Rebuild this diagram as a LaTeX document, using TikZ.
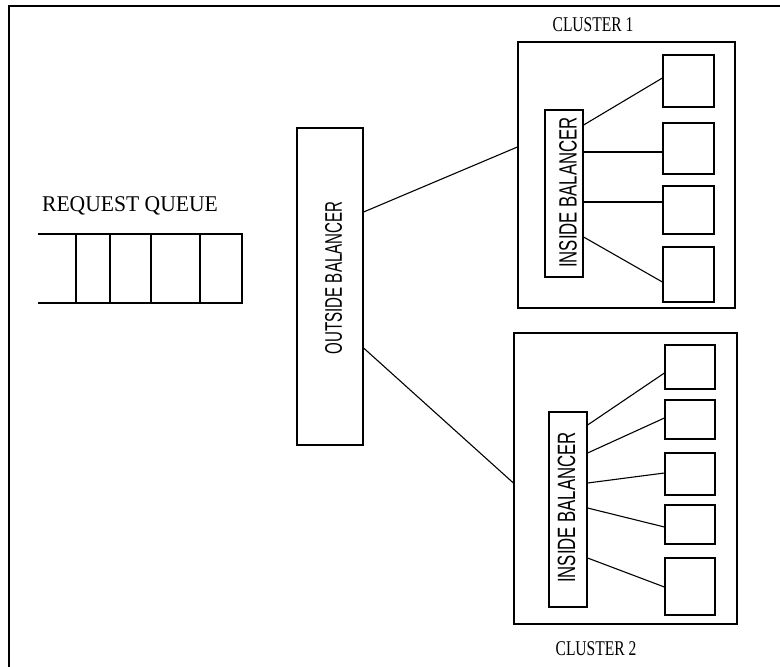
\documentclass[tikz,border=0pt]{standalone}
\usepackage{fontspec}
\setmainfont{Liberation Serif}
\setsansfont{Liberation Sans}
\usepackage{graphicx}
\begin{document}
\begin{tikzpicture}[x=1pt,y=-1pt,
  box/.style={draw, line width=1.2pt, inner sep=0pt, rectangle},
  link/.style={line width=1.1pt},
  serlabel/.style={inner sep=0pt, anchor=base},
  rottext/.style={inner sep=0pt, rotate=90, anchor=center}]
\useasboundingbox (0,0) rectangle (780,667);
% outer frame
\draw[line width=1.3pt] (9,667) -- (9,6) -- (780,6);
% request queue
\node[serlabel] (rqlabel) at (130,211) {\fontsize{22.5}{27}\selectfont\scalebox{0.96}[1]{REQUEST QUEUE}};
\draw[line width=1.2pt] (38,234) -- (242,234) -- (242,303) -- (38,303);
\foreach \xx in {76,110,151,200} \draw[line width=1.2pt] (\xx,234) -- (\xx,303);
% outside balancer
\node[box, minimum width=66pt, minimum height=317pt] (ob) at (330,286.5) {};
\node[rottext] (obtext) at (333.5,278) {\sffamily\fontsize{24}{28}\selectfont\scalebox{0.63}[1]{OUTSIDE BALANCER}};
% cluster 1
\node[serlabel] (c1label) at (593,31.5) {\fontsize{21}{25}\selectfont\scalebox{0.74}[1]{CLUSTER 1}};
\node[box, minimum width=217pt, minimum height=266pt] (c1) at (626.5,175) {};
\node[box, minimum width=38pt, minimum height=167pt] (ib1) at (564,193.5) {};
\node[rottext] (ib1text) at (568,192.5) {\sffamily\fontsize{25}{29}\selectfont\scalebox{0.67}[1]{INSIDE BALANCER}};
\node[box, minimum width=51pt, minimum height=52pt] (s11) at (688.5,81) {};
\node[box, minimum width=51pt, minimum height=51pt] (s12) at (688.5,148.5) {};
\node[box, minimum width=51pt, minimum height=48pt] (s13) at (688.5,210) {};
\node[box, minimum width=51pt, minimum height=55pt] (s14) at (688.5,274.5) {};
\draw[link] ([yshift=68.5pt]ib1.east) -- ([yshift=3pt]s11.west);
\draw[link] ([yshift=41.5pt]ib1.east) -- ([yshift=-3.5pt]s12.west);
\draw[link] ([yshift=-8.5pt]ib1.east) -- ([yshift=8pt]s13.west);
\draw[link] ([yshift=-43.5pt]ib1.east) -- ([yshift=-7.5pt]s14.west);
% cluster 2
\node[box, minimum width=223pt, minimum height=291pt] (c2) at (625.5,478.5) {};
\node[serlabel] (c2label) at (596,655.5) {\fontsize{21}{25}\selectfont\scalebox{0.74}[1]{CLUSTER 2}};
\node[box, minimum width=38pt, minimum height=195pt] (ib2) at (568,509.5) {};
\node[rottext] (ib2text) at (566.5,507.5) {\sffamily\fontsize{25}{29}\selectfont\scalebox{0.67}[1]{INSIDE BALANCER}};
\node[box, minimum width=50pt, minimum height=44pt] (s21) at (690,367) {};
\node[box, minimum width=50pt, minimum height=39pt] (s22) at (690,419.5) {};
\node[box, minimum width=50pt, minimum height=42pt] (s23) at (690,474) {};
\node[box, minimum width=50pt, minimum height=39pt] (s24) at (690,524.5) {};
\node[box, minimum width=50pt, minimum height=57pt] (s25) at (690,586.5) {};
\draw[link] ([yshift=84.5pt]ib2.east) -- ([yshift=-6pt]s21.west);
\draw[link] ([yshift=56.5pt]ib2.east) -- ([yshift=1.5pt]s22.west);
\draw[link] ([yshift=26.5pt]ib2.east) -- ([yshift=1pt]s23.west);
\draw[link] ([yshift=1.5pt]ib2.east) -- ([yshift=-2.5pt]s24.west);
\draw[link] ([yshift=-48.5pt]ib2.east) -- ([yshift=-0.5pt]s25.west);
% outside balancer to clusters
\draw[link] ([yshift=74.5pt]ob.east) -- ([yshift=28pt]c1.west);
\draw[link] ([yshift=-61.5pt]ob.east) -- ([yshift=-4.5pt]c2.west);
\end{tikzpicture}
\end{document}
